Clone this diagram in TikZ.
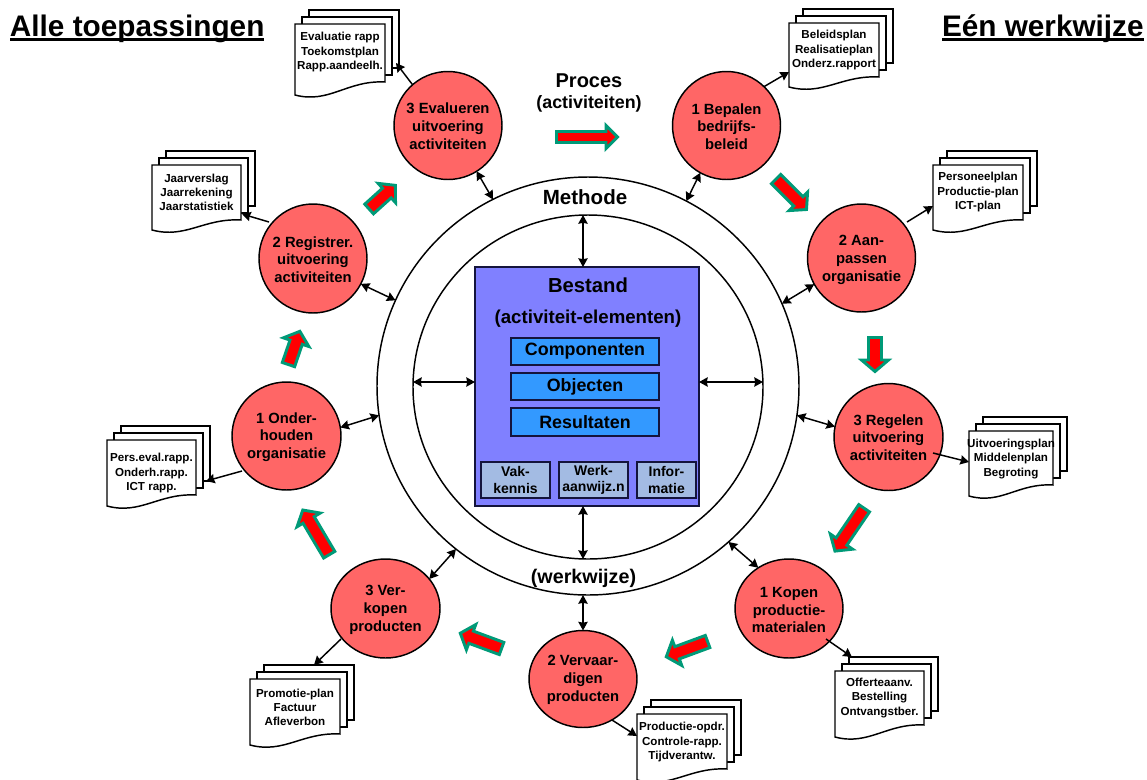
\documentclass[tikz,border=0pt]{standalone}
\usepackage{fontspec}
\setmainfont{Liberation Sans}
\usetikzlibrary{arrows.meta,calc,shapes.geometric}
\definecolor{circfill}{HTML}{FF6666}
\definecolor{boxfill}{HTML}{8080FF}
\definecolor{midfill}{HTML}{3399FF}
\definecolor{lowfill}{HTML}{A3BBE3}
\definecolor{arrgreen}{HTML}{009A78}
\definecolor{navyline}{HTML}{14143C}
\tikzset{
  fs/.style n args={2}{font=\fontsize{#1}{#2}\selectfont\bfseries},
  ring/.style={ellipse,draw=black,line width=1.1pt,inner sep=0pt,outer sep=0pt},
  proc/.style n args={2}{ellipse,draw=black,fill=circfill,line width=1.1pt,inner sep=0pt,outer sep=0pt,
     minimum width=#1*1.5pt,minimum height=#2*1.5pt},
  proctext/.style={align=center,inner sep=0pt,fs={11.1}{13.3}},
  doctext/.style={align=center,inner sep=0pt,fs={8.7}{10.6}},
  plain/.style={inner sep=0pt,outer sep=0pt,align=center},
  midbox/.style n args={2}{rectangle,draw=navyline,fill=midfill,line width=1pt,inner sep=0pt,outer sep=0pt,
     minimum width=#1*0.75pt,minimum height=#2*0.75pt,fs={13.4}{15}},
  lowbox/.style={rectangle,draw=navyline,fill=lowfill,line width=1pt,inner sep=0pt,outer sep=0pt,
     minimum width=#1*0.75pt,minimum height=27pt,align=center,fs={10.5}{12.4}},
  conn/.style={line width=1.1pt,-{Stealth[length=6.5pt,width=7pt,inset=0.6pt]}},
  dconn/.style={line width=1.1pt,{Stealth[length=6.5pt,width=7pt,inset=0.6pt]}-{Stealth[length=6.5pt,width=7pt,inset=0.6pt]}},
  page/.style={draw=black,fill=white,line width=1.1pt,line join=miter},
  bigarrow/.style={draw=arrgreen,fill=red,line width=2.2pt,miter limit=10,line join=miter}
}
% name, x, y, rx, ry, text y, text
\newcommand{\proccircle}[7]{%
  \node[proc={#4}{#5}] (#1) at (#2,#3) {};
  \node[proctext] (#1t) at (#2,#6) {#7};
}
% name, x, y, w, h at right, h at left, text centre y offset, text
\newcommand{\docstack}[8]{%
  \draw[page] ({#2+14},{#3-14}) rectangle ({#2+14+#4},{#3-14+#5});
  \draw[page] ({#2+7},{#3-7}) rectangle ({#2+7+#4},{#3-7+#5});
  \draw[page] (#2,#3) -- ({#2+#4},#3) -- ({#2+#4},{#3+#5})
     .. controls ({#2+0.58*#4},{#3+#5-2}) and ({#2+0.38*#4},{#3+#6+9}) .. (#2,{#3+#6}) -- cycle;
  \coordinate (#1) at (#2,#3);
  \node[doctext] (#1t) at ({#2+0.5*#4},{#3+#7}) {#8};
}
% tail x, tail y, tip x, tip y, shaft half width, head half width
\newcommand{\bigarr}[6]{%
  \pgfmathsetmacro{\arang}{atan2(-(#4)+(#2),(#3)-(#1))}%
  \pgfmathsetmacro{\arlen}{veclen((#3)-(#1),(#4)-(#2))}%
  \begin{scope}[shift={(#1,#2)},rotate=\arang]
    \draw[bigarrow] (1.5,-#5) -- ({\arlen-15},-#5) -- ({\arlen-15},-#6) -- ({\arlen-3.5},0)
       -- ({\arlen-15},#6) -- ({\arlen-15},#5) -- (1.5,#5) -- cycle;
  \end{scope}
}
\begin{document}
\begin{tikzpicture}[x=0.75pt,y=-0.75pt]
\useasboundingbox (0,0) rectangle (1147,779);
\clip (0,0) rectangle (1147,779);

% titles
\node[plain,anchor=base west,fs={22.3}{24}] (tleft) at (10,36) {Alle toepassingen};
\node[plain,anchor=base west,fs={22.3}{24}] (tright) at (942,36) {Eén werkwijze};
\draw[line width=2.4pt] ($(tleft.base west)+(0,3.5)$) -- ($(tleft.base east)+(0,3.5)$);
\draw[line width=2.4pt] ($(tright.base west)+(0,3.5)$) -- ($(tright.base east)+(0,3.5)$);
\node[plain,fs={15}{17}] (proces) at (589,81) {Proces};
\node[plain,fs={13.4}{15}] (activ) at (589,104) {(activiteiten)};

% rings
\node[ring,minimum width=316.5pt,minimum height=313.5pt] (outer) at (588,386) {};
\node[ring,minimum width=262.5pt,minimum height=258pt] (inner) at (588,387) {};
\node[plain,fs={15.4}{17}] (methode) at (585,197) {Methode};
\node[plain,fs={14.8}{17}] (werkwijze) at (583.5,578) {(werkwijze)};

% central box
\node[rectangle,draw=navyline,fill=boxfill,line width=1.1pt,inner sep=0pt,outer sep=0pt,
      minimum width=168pt,minimum height=179.25pt] (box) at (587,386.5) {};
\node[plain,fs={15.2}{17}] (bestand) at (588,285) {Bestand};
\node[plain,fs={14}{16}] (activel) at (588,319) {(activiteit-elementen)};
\node[midbox={148}{27}] (comp) at (585,351.5) {Componenten};
\node[midbox={148}{27}] (obj) at (585,386.5) {Objecten};
\node[midbox={148}{28}] (res) at (585,422) {Resultaten};
\node[lowbox=69] (vak) at (515.5,480) {Vak-\\kennis};
\node[lowbox=69] (werk) at (593.5,480) {Werk-\\aanwijz.n};
\node[lowbox=59] (info) at (666.5,480) {Infor-\\matie};

% activity circles
\proccircle{ev}{448}{125.5}{54}{54}{126}{3 Evalueren\\uitvoering\\activiteiten}
\proccircle{be}{726.5}{125.5}{54}{54}{126.5}{1 Bepalen\\bedrijfs-\\beleid}
\proccircle{aa}{861.5}{258}{54}{54}{260}{2 Aan-\\passen\\organisatie}
\proccircle{re}{888.5}{437}{54.5}{53.5}{437.5}{3 Regelen\\uitvoering\\activiteiten}
\proccircle{ko}{789}{608.5}{54}{49.5}{610}{1 Kopen\\productie-\\materialen}
\proccircle{vv}{583}{679}{54}{48.5}{680}{2 Vervaar-\\digen\\producten}
\proccircle{ve}{385.5}{608.5}{54.5}{49.5}{610}{3 Ver-\\kopen\\producten}
\proccircle{on}{286.5}{436}{54.5}{54}{437}{1 Onder-\\houden\\organisatie}
\proccircle{rg}{313}{258.5}{54}{54.5}{259.5}{2 Registrer.\\uitvoering\\activiteiten}

% document stacks
\docstack{dev}{295}{24}{90}{58}{71}{28}{Evaluatie rapp\\Toekomstplan\\Rapp.aandeelh.}
\docstack{dbe}{789}{23}{90}{54}{64}{27}{Beleidsplan\\Realisatieplan\\Onderz.rapport}
\docstack{daa}{933}{165}{90}{55}{65}{27}{Personeelplan\\Productie-plan\\ICT-plan}
\docstack{dre}{969}{431}{84}{54}{65}{28}{Uitvoeringsplan\\Middelenplan\\Begroting}
\docstack{dko}{835}{671}{89}{54}{66}{27}{Offerteaanv.\\Bestelling\\Ontvangstber.}
\docstack{dvv}{637}{714}{90}{55}{66}{28}{Productie-opdr.\\Controle-rapp.\\Tijdverantw.}
\docstack{dve}{250}{679}{90}{55}{66}{28}{Promotie-plan\\Factuur\\Afleverbon}
\docstack{don}{107}{440}{89}{55}{66}{33}{Pers.eval.rapp.\\Onderh.rapp.\\ICT rapp.}
\docstack{drg}{152}{165}{89}{55}{65}{27}{Jaarverslag\\Jaarrekening\\Jaarstatistiek}

% circle to ring
\draw[dconn] (ev.-58.4) -- (outer.117.7);
\draw[dconn] (be.241.7) -- (outer.62.6);
\draw[dconn] (aa.209.7) -- (outer.23.4);
\draw[dconn] (re.169.7) -- (outer.-8.3);
\draw[dconn] (ko.127) -- (outer.-48.1);
\draw[dconn] (vv.north) -- (vv.north |- outer.south);
\draw[dconn] (ve.34.7) -- (outer.231.6);
\draw[dconn] (on.9.4) -- (outer.188.3);
\draw[dconn] (rg.-28.5) -- (outer.156.7);

% ring to central box
\coordinate (mx) at (583,386);
\coordinate (my) at (587,382);
\draw[dconn] (mx |- inner.north) -- (mx |- box.north);
\draw[dconn] (mx |- box.south) -- (mx |- inner.south);
\draw[dconn] (my -| inner.west) -- (my -| box.west);
\draw[dconn] (my -| box.east) -- (my -| inner.east);

% circle to document
\draw[conn] (ev.131) -- ($(dev)+(101,39)$);
\draw[conn] (be.46) -- ($(dbe)+(0,49)$);
\draw[conn] ($(aa)+(45.5,-36)$) -- ($(daa)+(0,41)$);
\draw[conn] ($(re)+(44.5,16)$) -- ($(dre)+(0,31)$);
\draw[conn] ($(ko)+(37,30.5)$) -- ($(dko)+(17,-14)$);
\draw[conn] ($(vv)+(29,41)$) -- ($(dvv)+(0,22)$);
\draw[conn] ($(ve)+(-44.5,30.5)$) -- ($(dve)+(64,-14)$);
\draw[conn] ($(on)+(-44.5,35)$) -- ($(don)+(99,41)$);
\draw[conn] ($(rg)+(-44,-36.5)$) -- ($(drg)+(90,49)$);

% process arrows
\bigarr{555}{137}{621}{137}{5.5}{11.5}
\bigarr{775}{178}{809}{212}{6.5}{13}
\bigarr{875}{336}{875}{375}{6.5}{13.5}
\bigarr{865}{507}{833}{554}{6.5}{13.5}
\bigarr{709}{641}{663}{658}{6.5}{13.5}
\bigarr{503}{649}{457}{632}{6.5}{13.5}
\bigarr{330}{556}{301}{507}{6.5}{13.5}
\bigarr{288}{366}{301}{328}{6.5}{13.5}
\bigarr{368}{210}{398}{183}{6.5}{13}
\end{tikzpicture}
\end{document}
